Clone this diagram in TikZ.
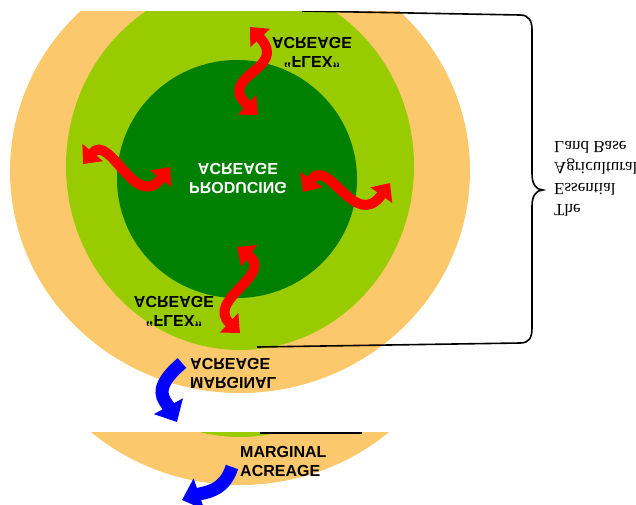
\documentclass[tikz,border=0pt]{standalone}
\usepackage{fontspec}
\usepackage{tikz}
\usetikzlibrary{arrows.meta}
\newfontfamily\lblfont{Liberation Sans}
\newfontfamily\bracefont{Liberation Serif}
\definecolor{landorange}{RGB}{252,200,108}
\definecolor{flexgreen}{RGB}{153,204,0}
\definecolor{prodgreen}{RGB}{0,128,0}
\tikzset{
  boldlbl/.style={font=\lblfont\bfseries\fontsize{16}{19}\selectfont, align=center, inner sep=0pt},
  flipped/.style={yscale=-1},
  flexarrow/.style={draw=red, line width=10pt, >={Triangle[length=15pt,width=26pt]}, <->},
  lossarrow/.style={draw=blue, line width=13pt, >={Triangle[length=18pt,width=32pt]}, ->},
}

\begin{document}
\begin{tikzpicture}[x=1pt,y=-1pt]
\useasboundingbox (0,0) rectangle (636,504);
% mirrored view of the land base
\begin{scope}
\clip (0,11) rectangle (636,428);
\fill[landorange] (240,171) ellipse [x radius=230pt, y radius=222pt];
\fill[flexgreen] (240,166) ellipse [x radius=174pt, y radius=184pt];
\fill[prodgreen] (237,179) ellipse [x radius=120pt, y radius=119pt];
% brace
\coordinate (bt) at (302,11);
\coordinate (bb) at (257,347);
\coordinate (cusp) at (543,190);
\draw[line width=1.6pt] (bt) -- (520,15) .. controls (529,15) and (532,21) .. (532,30) -- (532,174)
  .. controls (532,184) and (536,190) .. (cusp) .. controls (536,190) and (532,196) .. (532,206)
  -- (532,328) .. controls (532,338) and (529,343) .. (520,343) -- (bb);
\node[flipped, anchor=west, align=left, inner sep=0pt, font=\bracefont\fontsize{17}{21}\selectfont] (landbase) at (554,179) {The\\Essential\\Agricultural\\Land Base};
% flex arrows
\coordinate (upA) at (250,27); \coordinate (upB) at (258,115);
\coordinate (lfA) at (83,164); \coordinate (lfB) at (170,167);
\coordinate (rtA) at (303,192); \coordinate (rtB) at (390,183);
\coordinate (dnA) at (237,247); \coordinate (dnB) at (240,333);
\draw[flexarrow] (upA) .. controls (290,70) and (215,75) .. (upB);
\draw[flexarrow] (lfA) .. controls (110,132) and (135,212) .. (lfB);
\draw[flexarrow] (rtA) .. controls (328,155) and (355,232) .. (rtB);
\draw[flexarrow] (dnA) .. controls (275,275) and (205,300) .. (dnB);
% loss arrow
\coordinate (mgA) at (182,363); \coordinate (mgB) at (177,422);
\draw[lossarrow] (mgA) .. controls (150,390) and (165,400) .. (mgB);
% labels
\node[boldlbl, flipped] (flexup) at (312,52) {“FLEX”\\ACREAGE};
\node[boldlbl, flipped] (flexdn) at (174,311) {“FLEX”\\ACREAGE};
\node[boldlbl, flipped, text=white] (prod) at (238,179) {PRODUCING\\ACREAGE};
\node[boldlbl, flipped, anchor=west, align=left] (margup) at (190,373) {MARGINAL\\ACREAGE};
\end{scope}
% upright strip at the bottom
\begin{scope}
\clip (0,432) rectangle (636,504);
\fill[landorange] (240,263) ellipse [x radius=230pt, y radius=222pt];
\fill[flexgreen] (240,253) ellipse [x radius=174pt, y radius=184pt];
\coordinate (lnA) at (260,433); \coordinate (lnB) at (362,433);
\draw[line width=1.6pt] (lnA) -- (lnB);
\node[boldlbl, anchor=west, align=left] (margdn) at (240,461) {MARGINAL\\ACREAGE};
\coordinate (lsA) at (232,467); \coordinate (lsB) at (182,500);
\draw[lossarrow] (lsA) .. controls (224,492) and (205,492) .. (lsB);
\end{scope}
\end{tikzpicture}
\end{document}
